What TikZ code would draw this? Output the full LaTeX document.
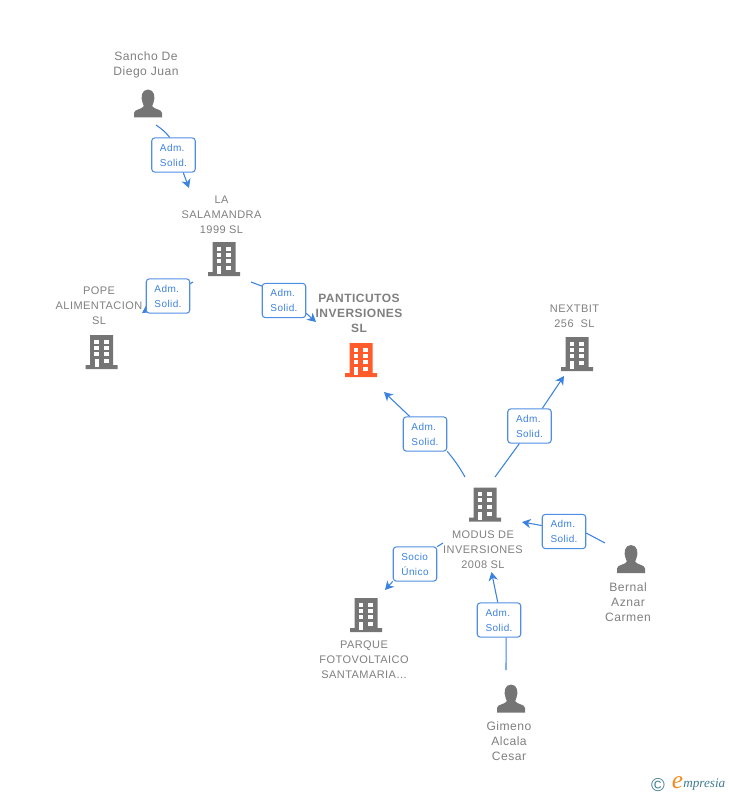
\documentclass[tikz,border=0pt]{standalone}
\usepackage{fontspec}
\usetikzlibrary{arrows.meta,backgrounds}
\newfontfamily\labelfont[LetterSpace=4]{Liberation Sans}
\newfontfamily\logofont{Liberation Serif}
\definecolor{icongray}{HTML}{757575}
\definecolor{iconorange}{HTML}{FF5B2B}
\definecolor{namegray}{HTML}{7F7F7F}
\definecolor{linkblue}{HTML}{3C82E0}
\definecolor{logoteal}{HTML}{3F7C90}
\definecolor{logoorange}{HTML}{F28A1E}
\tikzset{
  party/.style={text=namegray,align=center,inner sep=0pt,font=\labelfont\fontsize{8.25}{11.25}\selectfont},
  personparty/.style={party,font=\labelfont\fontsize{9.1}{11.25}\selectfont},
  mainparty/.style={party,font=\labelfont\bfseries\fontsize{9}{11.25}\selectfont},
  role/.style={draw=linkblue!90!white,fill=white,rounded corners=2.2pt,line width=.8pt,text=linkblue,align=left,inner sep=0pt,
    minimum width=32.6pt,minimum height=25.6pt,font=\labelfont\fontsize{7.5}{11.25}\selectfont},
  link/.style={draw=linkblue,line width=.8pt},
  arrowlink/.style={link,-{Stealth[length=6.5pt,width=7pt,inset=2pt]}},
  pics/building/.style={code={
    \fill[#1] (-11.5,0)--(-11.5,-34)--(11.5,-34)--(11.5,-4)--(16,-4)--(16,0)--(-16,0)--(-16,-4)--(-11.5,-4)--cycle;
    \foreach \ry in {-29.5,-23.2,-16.8} {
      \fill[white] (-7.5,\ry) rectangle (-2.8,\ry+4);
      \fill[white] (2,\ry) rectangle (7,\ry+4);
    }
    \fill[white] (-7,-9.6) rectangle (-3,-1.8);
    \fill[white] (2,-9.6) rectangle (7,-5.6);
  }},
  pics/person/.style={code={
    \fill[icongray] (-14,0)--(-14,-4.5) .. controls (-14,-8.5) and (-5.5,-8) .. (-4.2,-11.5)
      .. controls (-4.2,-12.5) and (-4.8,-13.5) .. (-5.5,-15) .. controls (-7.5,-20) and (-6.5,-28) .. (0,-28)
      .. controls (6.5,-28) and (7.5,-20) .. (5.5,-15) .. controls (4.8,-13.5) and (4.2,-12.5) .. (4.2,-11.5)
      .. controls (5.5,-8) and (14,-8.5) .. (14,-4.5)--(14,0)--cycle;
  }}
}
\begin{document}
\begin{tikzpicture}[x=.75pt,y=-.75pt]
\useasboundingbox (0,0) rectangle (728,795);

\pic at (148,117.5) {person};
\pic at (511,712.5) {person};
\pic at (631,573) {person};
\pic at (224,276) {building=icongray};
\pic at (101.5,369) {building=icongray};
\pic at (361,377) {building=iconorange};
\pic at (577,371) {building=icongray};
\pic at (485,521.5) {building=icongray};
\pic at (366,632) {building=icongray};

\node[personparty] (sancho) at (146,64.5) {Sancho De\\Diego Juan};
\node[party] (salamandra) at (221.5,215) {LA\\SALAMANDRA\\1999 SL};
\node[party] (pope) at (99,306) {POPE\\ALIMENTACION\\SL};
\node[mainparty] (panticutos) at (359,313) {PANTICUTOS\\INVERSIONES\\SL};
\node[party] (nextbit) at (574.5,316.5) {NEXTBIT\\256\ \ SL};
\node[party] (modus) at (483,550) {MODUS DE\\INVERSIONES\\2008 SL};
\node[personparty] (bernal) at (628,602) {Bernal\\Aznar\\Carmen};
\node[party] (parque) at (364,660) {PARQUE\\FOTOVOLTAICO\\SANTAMARIA...};
\node[personparty] (gimeno) at (509,741) {Gimeno\\Alcala\\Cesar};

\node[role] (roleA) at (173.5,155) {Adm.\\Solid.};
\node[role] (roleB) at (168,296) {Adm.\\Solid.};
\node[role] (roleC) at (284,300.5) {Adm.\\Solid.};
\node[role] (roleD) at (425,434) {Adm.\\Solid.};
\node[role] (roleE) at (529.5,426) {Adm.\\Solid.};
\node[role] (roleF) at (564,531.5) {Adm.\\Solid.};
\node[role] (roleG) at (415,564) {Socio\\Único};
\node[role] (roleH) at (499,620) {Adm.\\Solid.};

\coordinate (fromA) at (156,125);
\coordinate (toA) at (189,188);
\coordinate (fromB) at (193,282);
\coordinate (toB) at (142,313);
\coordinate (fromC) at (251,282);
\coordinate (toC) at (316,322);
\coordinate (fromD) at (465,477);
\coordinate (toD) at (384,392);
\coordinate (fromE) at (495,477);
\coordinate (toE) at (564,376);
\coordinate (fromF) at (605,543);
\coordinate (toF) at (522,522);
\coordinate (fromG) at (443,543);
\coordinate (toG) at (385,590);
\coordinate (fromH) at (506,670);
\coordinate (toH) at (491.5,572);

\draw[link] (fromA) to[bend left=8] (roleA.102);
\draw[arrowlink] (roleA.299) -- (toA);
\draw[link] (fromB) -- (roleB.29);
\begin{scope}[on background layer]
\draw[arrowlink] (roleB.center) -- (toB);
\end{scope}
\draw[link] (fromC) -- (roleC.147);
\draw[arrowlink] (roleC.330) -- (toC);
\draw[link] (fromD) to[bend right=5] (roleD.322);
\draw[arrowlink] (roleD.131) -- (toD);
\draw[link] (fromE) -- (roleE.240);
\draw[arrowlink] (roleE.54) -- (toE);
\draw[link] (fromF) -- (roleF.356);
\draw[arrowlink] (roleF.165) -- (toF);
\draw[link] (fromG) -- (roleG.38);
\draw[arrowlink] (roleG.218) -- (toG);
\draw[link] (fromH) -- (roleH.292);
\draw[arrowlink] (roleH.94) -- (toH);

\node[text=logoteal,inner sep=0pt,font=\labelfont\fontsize{14}{14}\selectfont] (logomark) at (658,785) {©};
\node[text=logoorange,inner sep=0pt,font=\logofont\itshape\fontsize{19}{19}\selectfont] (logoe) at (677.5,782.5) {e};
\node[text=logoteal,inner sep=0pt,anchor=west,font=\logofont\itshape\fontsize{9.9}{10}\selectfont] (logotext) at (683,785) {mpresia};
\end{tikzpicture}
\end{document}
